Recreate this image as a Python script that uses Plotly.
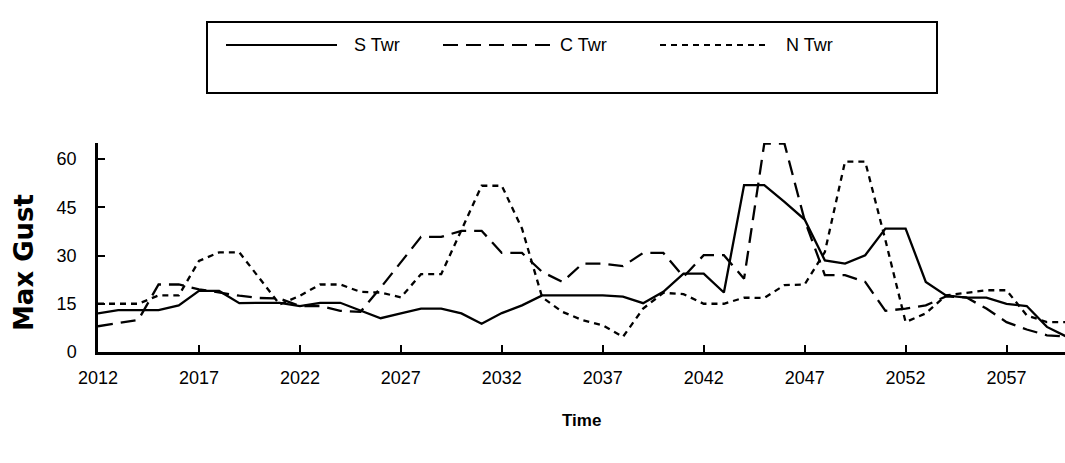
import plotly.graph_objects as go

# Yearly maximum gust per tower
years = list(range(2012, 2061))

s_twr = [12, 13, 13, 13, 14.5, 19, 19, 15.2, 15.3, 15.3,
         14.3, 15.3, 15.3, 13, 10.5, 12, 13.5, 13.5, 12, 8.8,
         12.1, 14.5, 17.6, 17.6, 17.6, 17.6, 17.2, 15.2, 18.7, 24.4,
         24.4, 18.5, 51.9, 51.9, 46.7, 41.2, 28.5, 27.5, 30.1, 38.4,
         38.4, 21.8, 17.6, 16.9, 16.9, 15, 14.3, 7.8, 4.7]

c_twr = [8, 9, 10, 21, 21, 19.5, 18.5, 17.5, 16.8, 16.6,
         14.3, 14.3, 12.8, 12.5, 20, 28, 35.8, 35.8, 37.7, 37.7,
         30.8, 30.8, 24.9, 21.8, 27.5, 27.5, 26.7, 30.8, 30.8, 23.4,
         30.1, 30.1, 22.8, 64.8, 64.8, 41, 23.9, 23.9, 21.8, 12.8,
         13.5, 14.5, 17.3, 17, 13.5, 9.3, 7, 5.2, 4.8]

n_twr = [15, 15, 15, 17.6, 17.6, 28.3, 31, 31, 23, 14.8,
         17.5, 21, 21, 18.7, 18.5, 17, 24.2, 24.2, 37.9, 51.7,
         51.7, 38.4, 17, 12.5, 9.9, 8.3, 4.7, 13.5, 18.4, 18,
         15, 15, 16.9, 16.8, 20.8, 21, 31.1, 59.2, 59.2, 34.8,
         9.3, 12, 17.6, 18.5, 19.2, 19.2, 11.4, 9.3, 9.3]

series_names = ["S Twr", "C Twr", "N Twr"]
series_dash = ["solid", "15px,8px", "6px,5px"]

x_ticks = list(range(2012, 2061, 5))
y_ticks = [0, 15, 30, 45, 60]

W, H = 1065, 463
L, R, T, B = 98, 0, 143, 111
PW, PH = W - L - R, H - T - B


def px(x):
    return (x - L) / PW


def py(y):
    return (H - B - y) / PH


fig = go.Figure()
for name, vals, dash in zip(series_names, [s_twr, c_twr, n_twr], series_dash):
    fig.add_trace(go.Scatter(
        x=years, y=vals, mode="lines", name=name,
        line=dict(color="black", width=2.3, dash=dash),
        showlegend=False, cliponaxis=True,
    ))

font_tick = dict(family="Liberation Sans, Arial, sans-serif", size=18, color="black")

fig.update_layout(
    width=W, height=H,
    margin=dict(l=L, r=R, t=T, b=B, pad=0),
    paper_bgcolor="white", plot_bgcolor="white",
    showlegend=False,
    xaxis=dict(
        range=[2012, 2012 + PW / 20.19], tickmode="array", tickvals=x_ticks,
        ticks="inside", ticklen=7, tickwidth=2, tickcolor="black",
        showline=True, linecolor="black", linewidth=2.5,
        showgrid=False, zeroline=False, tickfont=font_tick,
        ticklabelstandoff=8,
    ),
    yaxis=dict(
        range=[0, 65], tickmode="array", tickvals=y_ticks,
        ticks="inside", ticklen=7, tickwidth=2, tickcolor="black",
        showline=True, linecolor="black", linewidth=2.5,
        showgrid=False, zeroline=False, tickfont=font_tick,
        ticklabelstandoff=15,
    ),
)

# Axis titles
fig.add_annotation(
    text="<b>Time</b>", x=0.5, y=py(420), xref="paper", yref="paper",
    showarrow=False, xanchor="center", yanchor="middle",
    font=dict(family="Liberation Sans, Arial, sans-serif", size=17, color="black"),
)
fig.add_annotation(
    text="<b>Max Gust</b>", x=px(24), y=py(263), xref="paper", yref="paper",
    showarrow=False, xanchor="center", yanchor="middle", textangle=-90,
    font=dict(family="DejaVu Sans, sans-serif", size=26, color="black"),
)

# Legend box with line samples
fig.add_shape(type="rect", xref="paper", yref="paper",
              x0=px(207), x1=px(937), y0=py(93), y1=py(22),
              line=dict(color="black", width=2), fillcolor="white")
legend_items = [(226, 337, 352), (443, 553, 558), (660, 770, 784)]
for (x0, x1, xt), name, dash in zip(legend_items, series_names, series_dash):
    fig.add_shape(type="line", xref="paper", yref="paper",
                  x0=px(x0), x1=px(x1), y0=py(45), y1=py(45),
                  line=dict(color="black", width=2, dash=dash))
    fig.add_annotation(text=name, x=px(xt), y=py(45), xref="paper", yref="paper",
                       showarrow=False, xanchor="left", yanchor="middle",
                       font=dict(family="Liberation Sans, Arial, sans-serif", size=18, color="black"))

fig.write_html("out.html")
